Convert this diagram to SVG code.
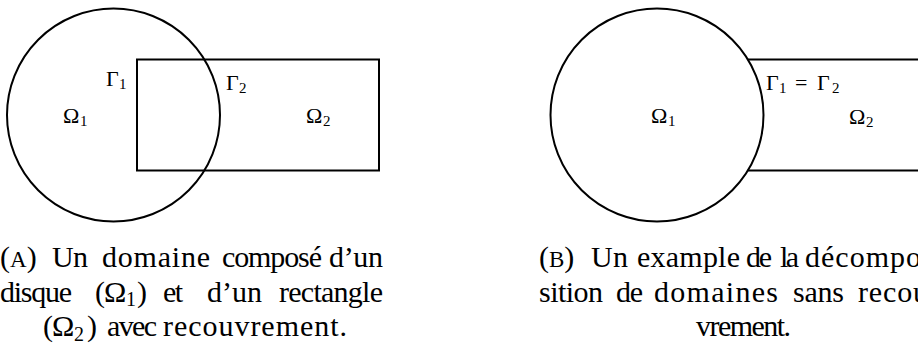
<svg xmlns="http://www.w3.org/2000/svg" width="918" height="347" viewBox="0 0 918 347">
<style>
.shape{fill:none;stroke:#000;stroke-width:2}
.sub{font-size:15px}
.csub{font-size:20px}
</style>
<rect width="918" height="347" fill="#fff"/>
<g id="figA">
  <g id="A-disk"><circle class="shape" cx="113.5" cy="115" r="106.5"/></g>
  <g id="A-rect"><rect class="shape" x="137" y="59.5" width="242" height="111"/></g>
  <g id="A-labels" font-family="'Liberation Serif', 'DejaVu Serif', serif" font-size="22" fill="#000">
    <text x="106" y="86">Γ<tspan class="sub" x="119" y="89">1</tspan></text>
    <text x="226" y="90">Γ<tspan class="sub" x="239" y="93">2</tspan></text>
    <text x="63" y="123">Ω<tspan class="sub" x="80" y="126">1</tspan></text>
    <text x="306" y="123">Ω<tspan class="sub" x="323" y="126">2</tspan></text>
  </g>
</g>
<g id="figB">
  <g id="B-disk"><circle class="shape" cx="657" cy="115" r="106.5"/></g>
  <g id="B-rect"><path class="shape" d="M748,59.5 H945 V170.5 H748"/></g>
  <g id="B-labels" font-family="'Liberation Serif', 'DejaVu Serif', serif" font-size="22" fill="#000">
    <text x="651" y="123">Ω<tspan class="sub" x="668" y="126">1</tspan></text>
    <text x="766" y="90">Γ<tspan class="sub" x="779" y="93">1</tspan><tspan x="795" y="90">=</tspan><tspan x="817" y="90">Γ</tspan><tspan class="sub" x="832" y="93">2</tspan></text>
    <text x="849" y="124">Ω<tspan class="sub" x="866" y="127">2</tspan></text>
  </g>
</g>
<g id="captionA" font-family="'Liberation Serif', 'DejaVu Serif', serif" font-size="30" fill="#000">
  <text x="0" y="266.5">(<tspan font-size="23">A</tspan>)</text>
  <text x="52" y="266.5" textLength="36" lengthAdjust="spacing">Un</text>
  <text x="102" y="266.5" textLength="108" lengthAdjust="spacing">domaine</text>
  <text x="222" y="266.5" textLength="100" lengthAdjust="spacing">composé</text>
  <text x="329" y="266.5" textLength="54" lengthAdjust="spacing">d’un</text>
  <text x="0" y="301.5" textLength="72" lengthAdjust="spacing">disque</text>
  <text x="95" y="301.5">(<tspan x="104">Ω</tspan><tspan class="csub" x="126" y="306">1</tspan><tspan x="137" y="301.5">)</tspan></text>
  <text x="163" y="301.5" textLength="20" lengthAdjust="spacing">et</text>
  <text x="207" y="301.5" textLength="55" lengthAdjust="spacing">d’un</text>
  <text x="279" y="301.5" textLength="104" lengthAdjust="spacing">rectangle</text>
  <text x="43" y="336">(<tspan x="52">Ω</tspan><tspan class="csub" x="74" y="340.5">2</tspan><tspan x="87" y="336">)</tspan></text>
  <text x="107" y="336" textLength="50" lengthAdjust="spacing">avec</text>
  <text x="163" y="336" textLength="184" lengthAdjust="spacing">recouvrement.</text>
</g>
<g id="captionB" font-family="'Liberation Serif', 'DejaVu Serif', serif" font-size="30" fill="#000">
  <text x="539" y="266.5">(<tspan font-size="23">B</tspan>)</text>
  <text x="591" y="266.5" textLength="37" lengthAdjust="spacing">Un</text>
  <text x="637" y="266.5" textLength="103" lengthAdjust="spacing">example</text>
  <text x="746" y="266.5" textLength="26" lengthAdjust="spacing">de</text>
  <text x="780" y="266.5" textLength="19" lengthAdjust="spacing">la</text>
  <text x="805" y="266.5" textLength="116" lengthAdjust="spacing">décompo</text>
  <text x="539" y="301.5" textLength="64" lengthAdjust="spacing">sition</text>
  <text x="616" y="301.5" textLength="27" lengthAdjust="spacing">de</text>
  <text x="654" y="301.5" textLength="124" lengthAdjust="spacing">domaines</text>
  <text x="793" y="301.5" textLength="51" lengthAdjust="spacing">sans</text>
  <text x="858" y="301.5" textLength="70" lengthAdjust="spacing">recou</text>
  <text x="696" y="336" textLength="95" lengthAdjust="spacing">vrement.</text>
</g>
</svg>
